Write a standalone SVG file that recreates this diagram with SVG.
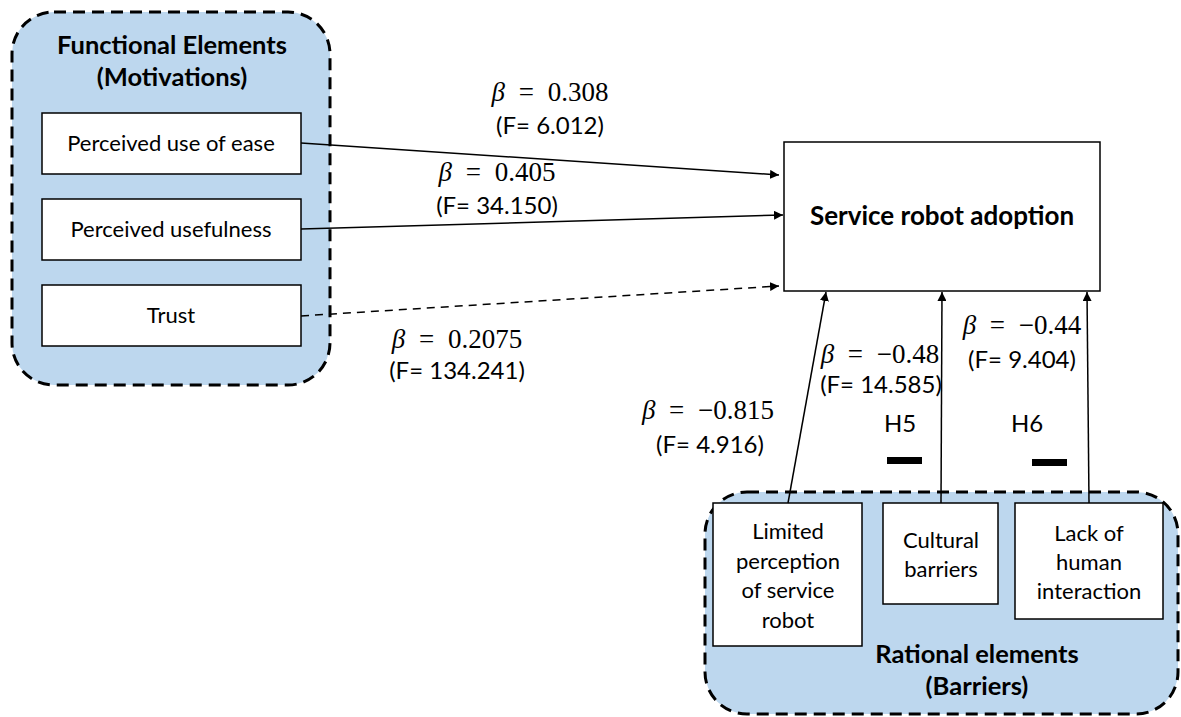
<svg xmlns="http://www.w3.org/2000/svg" width="1181" height="717" viewBox="0 0 1181 717">
  <defs>
    <marker id="arrow" viewBox="0 0 10 10" refX="10" refY="5" markerWidth="9" markerHeight="9" markerUnits="userSpaceOnUse" orient="auto">
      <path d="M0,0 L10,5 L0,10 z" fill="#000"/>
    </marker>
    <style>
      .group { fill: #BDD7EE; stroke: #000; stroke-width: 3; stroke-dasharray: 12 7; }
      .box { fill: #fff; stroke: #000; stroke-width: 1.5; }
      .lbl { font-family: Lato, "Open Sans", sans-serif; font-size: 22px; fill: #000; text-anchor: middle; }
      .ttl { font-family: Lato, "Open Sans", sans-serif; font-size: 25.5px; font-weight: bold; fill: #000; text-anchor: middle; }
      .math { font-family: "Liberation Serif", "DejaVu Serif", serif; font-size: 27px; word-spacing: 7px; fill: #000; text-anchor: middle; }
      .stat { font-family: Lato, "Open Sans", sans-serif; font-size: 24px; fill: #000; text-anchor: middle; }
      .hyp { font-family: Lato, "Open Sans", sans-serif; font-size: 24px; fill: #000; text-anchor: middle; }
      .edge { stroke: #000; stroke-width: 1.5; fill: none; marker-end: url(#arrow); }
      .dash { stroke-dasharray: 8 6; }
    </style>
  </defs>

  <rect width="1181" height="717" fill="#fff"/>

  <!-- Functional elements group -->
  <g id="functional-elements">
    <rect class="group" x="12" y="12" width="318" height="373" rx="42"/>
    <text class="ttl" x="172" y="54">Functional Elements</text>
    <text class="ttl" x="172" y="86">(Motivations)</text>
  </g>
  <g id="perceived-ease">
    <rect class="box" x="42" y="113" width="259" height="61"/>
    <text class="lbl" x="171" y="151">Perceived use of ease</text>
  </g>
  <g id="perceived-usefulness">
    <rect class="box" x="42" y="199" width="259" height="61"/>
    <text class="lbl" x="171" y="237">Perceived usefulness</text>
  </g>
  <g id="trust">
    <rect class="box" x="42" y="285" width="259" height="61"/>
    <text class="lbl" x="171" y="323">Trust</text>
  </g>

  <!-- Rational elements group -->
  <g id="rational-elements">
    <rect class="group" x="705" y="492" width="473" height="222" rx="42"/>
    <text class="ttl" x="977" y="663">Rational elements</text>
    <text class="ttl" x="977" y="695">(Barriers)</text>
  </g>
  <g id="limited-perception">
    <rect class="box" x="713" y="503" width="149" height="143"/>
    <text class="lbl" x="788" y="539">Limited</text>
    <text class="lbl" x="788" y="569">perception</text>
    <text class="lbl" x="788" y="598">of service</text>
    <text class="lbl" x="788" y="628">robot</text>
  </g>
  <g id="cultural-barriers">
    <rect class="box" x="883" y="503" width="115" height="101"/>
    <text class="lbl" x="941" y="548">Cultural</text>
    <text class="lbl" x="941" y="577">barriers</text>
  </g>
  <g id="lack-of-interaction">
    <rect class="box" x="1015" y="503" width="148" height="116"/>
    <text class="lbl" x="1089" y="541">Lack of</text>
    <text class="lbl" x="1089" y="570">human</text>
    <text class="lbl" x="1089" y="599">interaction</text>
  </g>

  <!-- Outcome -->
  <g id="service-robot-adoption">
    <rect class="box" x="784" y="142" width="316" height="149"/>
    <text class="ttl" x="942" y="225" style="font-size:26px">Service robot adoption</text>
  </g>

  <!-- Connectors -->
  <g id="connectors">
    <line class="edge" x1="301" y1="143" x2="779" y2="175"/>
    <line class="edge" x1="301" y1="229" x2="783" y2="215"/>
    <line class="edge dash" x1="301" y1="316" x2="779" y2="286"/>
    <line class="edge" x1="788" y1="503" x2="826" y2="292"/>
    <line class="edge" x1="941" y1="503" x2="942" y2="292"/>
    <line class="edge" x1="1089" y1="503" x2="1087" y2="292"/>
  </g>

  <!-- Path coefficients -->
  <g id="coefficients">
    <text class="math" x="550" y="101"><tspan font-style="italic">β</tspan> = 0.308</text>
    <text class="stat" x="550" y="134">(F= 6.012)</text>
    <text class="math" x="497" y="181"><tspan font-style="italic">β</tspan> = 0.405</text>
    <text class="stat" x="497" y="214">(F= 34.150)</text>
    <text class="math" x="457" y="348"><tspan font-style="italic">β</tspan> = 0.2075</text>
    <text class="stat" x="457" y="379">(F= 134.241)</text>
    <text class="math" x="708" y="419"><tspan font-style="italic">β</tspan> = −0.815</text>
    <text class="stat" x="710" y="453">(F= 4.916)</text>
    <text class="math" x="880" y="363"><tspan font-style="italic">β</tspan> = −0.48</text>
    <text class="stat" x="881" y="393">(F= 14.585)</text>
    <text class="math" x="1022" y="334"><tspan font-style="italic">β</tspan> = −0.44</text>
    <text class="stat" x="1022" y="368">(F= 9.404)</text>
  </g>

  <!-- Hypothesis markers -->
  <g id="hypotheses">
    <text class="hyp" x="900" y="432">H5</text>
    <rect x="887" y="457" width="35" height="7" fill="#000"/>
    <text class="hyp" x="1027" y="432">H6</text>
    <rect x="1032" y="459" width="35" height="7" fill="#000"/>
  </g>
</svg>
